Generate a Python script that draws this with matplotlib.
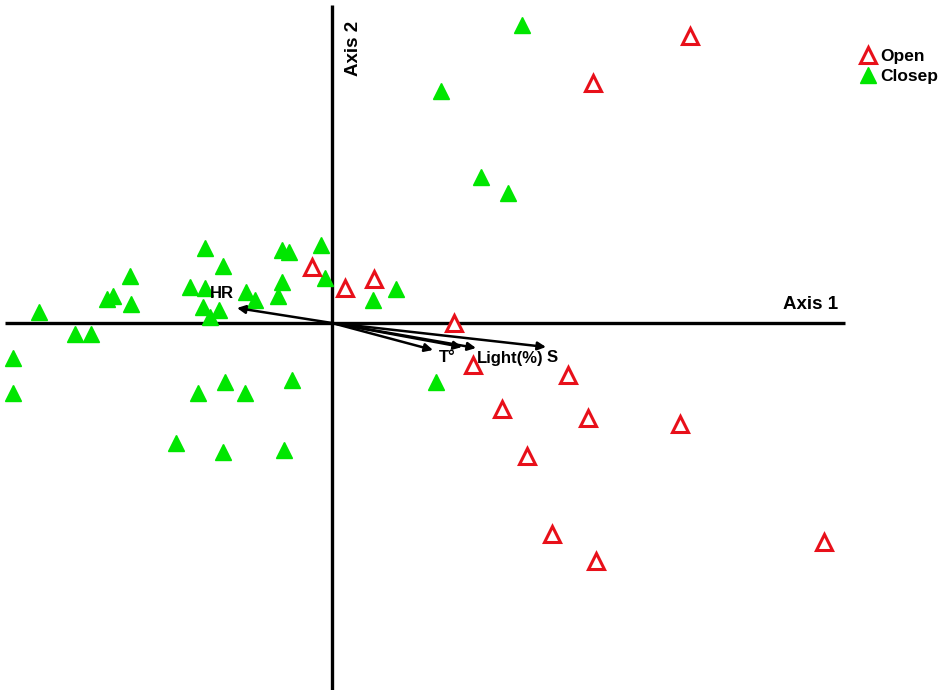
import matplotlib
matplotlib.use("Agg")
import matplotlib.pyplot as plt
from matplotlib.lines import Line2D

plt.rcParams['font.family'] = ['Liberation Sans', 'DejaVu Sans']

# Site scores (Axis 1, Axis 2)
open_x = [-0.20, 0.13, 0.42, 1.22, 1.41, 2.36, 1.70, 2.56, 3.48, 1.95, 2.20, 2.64, 4.92, 3.58, 2.61]
open_y = [0.56, 0.35, 0.44, 0.00, -0.42, -0.52, -0.86, -0.95, -1.01, -1.33, -2.11, -2.38, -2.19, 2.87, 2.40]

closep_x = [-1.27, -0.50, -0.43, -0.11, -1.09, -2.02, -0.50, -0.07, -1.42, -1.27, -2.19, -2.25,
            -2.01, -0.86, -0.77, -0.54, -1.29, -1.13, -1.22, -2.93, -2.57, -2.41, -3.19, -3.19,
            -1.07, -1.34, -0.87, -0.40, -1.56, -1.09, -0.48, 0.41, 0.64, 1.04, 1.90, 1.09, 1.49, 1.76]
closep_y = [0.75, 0.73, 0.71, 0.78, 0.57, 0.47, 0.41, 0.45, 0.36, 0.35, 0.27, 0.24,
            0.19, 0.31, 0.23, 0.27, 0.16, 0.13, 0.06, 0.11, -0.11, -0.11, -0.35, -0.70,
            -0.59, -0.70, -0.70, -0.57, -1.20, -1.29, -1.27, 0.23, 0.34, -0.59, 2.98, 2.32, 1.46, 1.30]

# Environmental vectors
vec_names = ["HR", "T°", "", "Light(%)", "S"]
vec_x = [-0.95, 1.01, 1.30, 1.44, 2.14]
vec_y = [0.15, -0.27, -0.24, -0.25, -0.24]

fig = plt.figure(figsize=(9.52, 6.90), dpi=100)
ax = fig.add_axes([0, 0, 1, 1])
ax.set_xlim(-3.32, 6.20)
ax.set_ylim(-3.67, 3.23)
ax.axis('off')

# Cross axes
ax.plot([-3.27, 5.13], [0, 0], color='black', lw=2.4, solid_capstyle='butt', zorder=1)
ax.plot([0, 0], [-3.67, 3.18], color='black', lw=2.4, solid_capstyle='butt', zorder=1)
ax.text(4.79, 0.10, "Axis 1", fontsize=13.5, fontweight='bold', ha='center', va='bottom')
ax.text(0.21, 2.75, "Axis 2", fontsize=13.5, fontweight='bold', rotation=90, ha='center', va='center')

ax.plot(closep_x, closep_y, linestyle='none', marker='^', markersize=11.5,
        markerfacecolor='#00e600', markeredgecolor='#00e600', zorder=3)
ax.plot(open_x, open_y, linestyle='none', marker='^', markersize=11,
        markerfacecolor='white', markeredgecolor='#e8101a', markeredgewidth=2.2, zorder=3)

for name, vx, vy in zip(vec_names, vec_x, vec_y):
    ax.annotate("", xy=(vx, vy), xytext=(0, 0),
                arrowprops=dict(arrowstyle='-|>', color='black', lw=1.8,
                                mutation_scale=12, shrinkA=0, shrinkB=0), zorder=4)

ax.text(-1.10, 0.30, "HR", fontsize=12, fontweight='bold', ha='center', va='center', zorder=5)
ax.text(1.15, -0.34, "T°", fontsize=12, fontweight='bold', ha='center', va='center', zorder=5)
ax.text(1.78, -0.36, "Light(%)", fontsize=12, fontweight='bold', ha='center', va='center', zorder=5)
ax.text(2.20, -0.35, "S", fontsize=12, fontweight='bold', ha='center', va='center', zorder=5)

handles = [
    Line2D([], [], linestyle='none', marker='^', markersize=11, markerfacecolor='white',
           markeredgecolor='#e8101a', markeredgewidth=2.2),
    Line2D([], [], linestyle='none', marker='^', markersize=11.5, markerfacecolor='#00e600',
           markeredgecolor='#00e600'),
]
leg = fig.legend(handles, ["Open", "Closep"], loc='upper left', bbox_to_anchor=(862 / 952, 1 - 49 / 690),
                 frameon=False, handlelength=0.7, handletextpad=0.35, labelspacing=0.25,
                 borderaxespad=0, borderpad=0, prop={'weight': 'bold', 'size': 12.5})

fig.savefig("out.png", dpi=100)
